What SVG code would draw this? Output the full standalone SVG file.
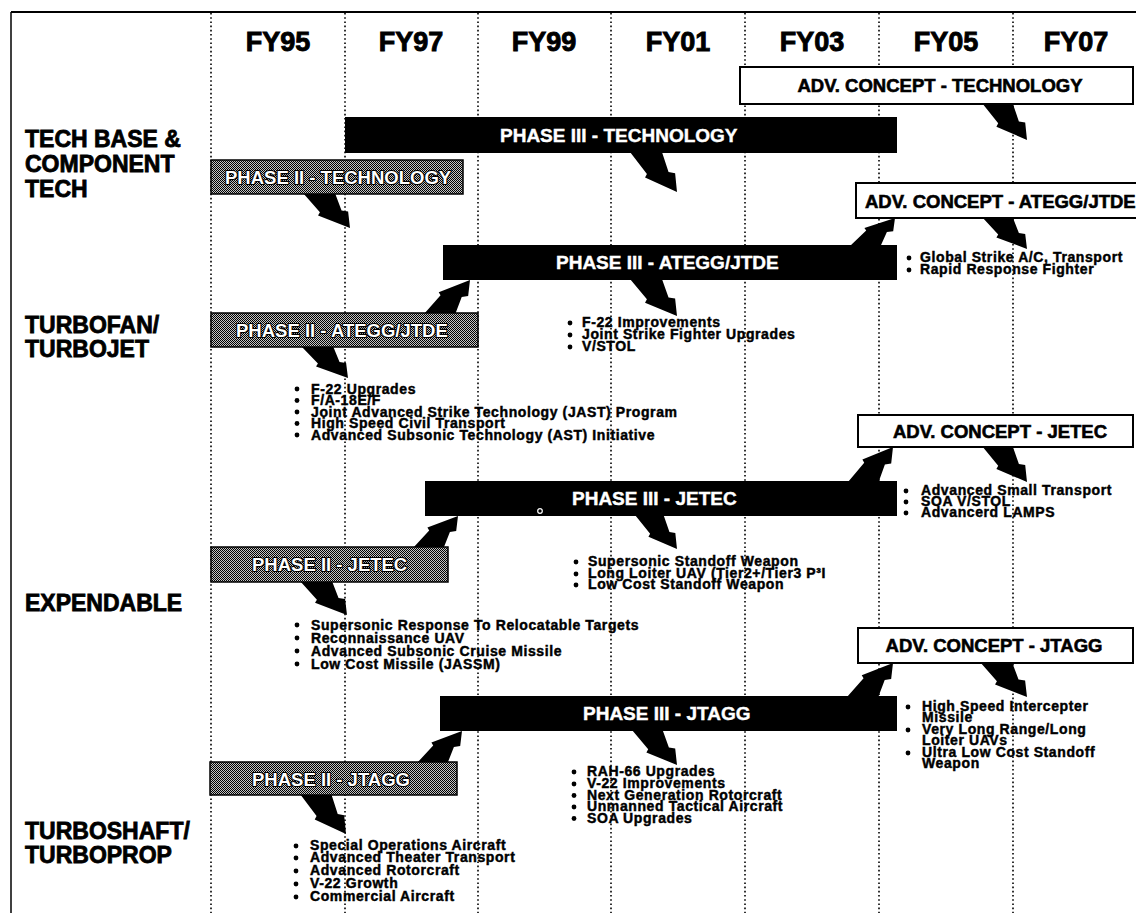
<svg xmlns="http://www.w3.org/2000/svg" width="1136" height="913" viewBox="0 0 1136 913">
<defs>
<style>
.fy{font-family:"Liberation Sans",Arial,sans-serif;font-weight:bold;font-size:27px;fill:#000;stroke:#000;stroke-width:0.9;text-anchor:middle}
.row{font-family:"Liberation Sans",Arial,sans-serif;font-weight:bold;font-size:23px;fill:#000;stroke:#000;stroke-width:0.8}
.bar{fill:#000}
.bt{font-family:"Liberation Sans",Arial,sans-serif;font-weight:bold;font-size:19px;fill:#fff;stroke:#fff;stroke-width:0.4}
.p2{fill:url(#ht);stroke:#000;stroke-width:1.5}
.p2t{font-family:"Liberation Sans",Arial,sans-serif;font-weight:bold;font-size:18.5px;fill:#fff;stroke:#000;stroke-width:2.2;paint-order:stroke;stroke-linejoin:round}
.adv{fill:#fff;stroke:#000;stroke-width:2}
.advt{font-family:"Liberation Sans",Arial,sans-serif;font-weight:bold;font-size:18.5px;fill:#000;stroke:#000;stroke-width:0.6}
.li{font-family:"Liberation Sans",Arial,sans-serif;font-weight:bold;font-size:14px;letter-spacing:0.6px;fill:#000;stroke:#000;stroke-width:0.45}
.grid{stroke:#000;stroke-width:1.6;stroke-dasharray:1.6 2.6;fill:none}
.bolt{fill:#000}
</style>
<pattern id="ht" width="2" height="2" patternUnits="userSpaceOnUse">
<rect width="2" height="2" fill="#c4c4c4"/>
<rect width="1" height="1" fill="#000"/>
<rect x="1" y="1" width="1" height="1" fill="#000"/>
</pattern>
<path id="bolt" d="M0,0 L68,0 L82,50 L96,53 L100,100 L32,64 L36,55 Z"/>
</defs>
<rect width="1136" height="913" fill="#fff"/>

<g id="frame">
<line x1="11" y1="12" x2="1136" y2="12" stroke="#000" stroke-width="2"/>
<line x1="11" y1="12" x2="11" y2="913" stroke="#000" stroke-width="1.5"/>
<g class="grid">
<line x1="211" y1="13" x2="211" y2="913"/>
<line x1="345" y1="13" x2="345" y2="913"/>
<line x1="478" y1="13" x2="478" y2="913"/>
<line x1="611" y1="13" x2="611" y2="913"/>
<line x1="745" y1="13" x2="745" y2="913"/>
<line x1="879" y1="13" x2="879" y2="913"/>
<line x1="1013" y1="13" x2="1013" y2="913"/>
</g>
</g>

<g id="years">
<text class="fy" x="278" y="51">FY95</text>
<text class="fy" x="411" y="51">FY97</text>
<text class="fy" x="544" y="51">FY99</text>
<text class="fy" x="678" y="51">FY01</text>
<text class="fy" x="812" y="51">FY03</text>
<text class="fy" x="946" y="51">FY05</text>
<text class="fy" x="1076" y="51">FY07</text>
</g>

<g id="row-labels">
<text class="row" x="25" y="147">TECH BASE &amp;</text>
<text class="row" x="25" y="172">COMPONENT</text>
<text class="row" x="25" y="197">TECH</text>
<text class="row" x="25" y="333">TURBOFAN/</text>
<text class="row" x="25" y="357">TURBOJET</text>
<text class="row" x="25" y="611">EXPENDABLE</text>
<text class="row" x="25" y="839">TURBOSHAFT/</text>
<text class="row" x="25" y="863">TURBOPROP</text>
</g>

<g id="connectors" class="bolt">
<use href="#bolt" transform="translate(982 103) scale(0.45 0.37)"/>
<use href="#bolt" transform="translate(630 152) scale(0.47 0.40)"/>
<use href="#bolt" transform="translate(303 193) scale(0.47 0.35)"/>
<use href="#bolt" transform="translate(982 217) scale(0.45 0.32)"/>
<use href="#bolt" transform="translate(630 279) scale(0.47 0.37)"/>
<use href="#bolt" transform="translate(301 346) scale(0.47 0.32)"/>
<use href="#bolt" transform="translate(982 446) scale(0.45 0.36)"/>
<use href="#bolt" transform="translate(635 515) scale(0.42 0.34)"/>
<use href="#bolt" transform="translate(300 581) scale(0.47 0.34)"/>
<use href="#bolt" transform="translate(980 662) scale(0.47 0.35)"/>
<use href="#bolt" transform="translate(632 730) scale(0.45 0.35)"/>
<use href="#bolt" transform="translate(300 794) scale(0.46 0.40)"/>
<use href="#bolt" transform="translate(424 314) scale(0.46 -0.34)"/>
<use href="#bolt" transform="translate(850 246) scale(0.45 -0.28)"/>
<use href="#bolt" transform="translate(413 548) scale(0.45 -0.32)"/>
<use href="#bolt" transform="translate(848 482) scale(0.45 -0.35)"/>
<use href="#bolt" transform="translate(417 763) scale(0.45 -0.32)"/>
<use href="#bolt" transform="translate(847 697) scale(0.46 -0.34)"/>
</g>

<g id="adv-technology">
<rect class="adv" x="740" y="67" width="393" height="37"/>
<text class="advt" x="940" y="92" text-anchor="middle">ADV. CONCEPT - TECHNOLOGY</text>
</g>
<g id="phase3-technology">
<rect class="bar" x="345" y="117" width="552" height="36"/>
<text class="bt" x="500" y="142">PHASE III - TECHNOLOGY</text>
</g>
<g id="phase2-technology">
<rect class="p2" x="211" y="160" width="252" height="34"/>
<text class="p2t" x="225" y="184">PHASE II - TECHNOLOGY</text>
</g>

<g id="adv-ategg">
<rect class="adv" x="856" y="183" width="290" height="35"/>
<text class="advt" x="865" y="208">ADV. CONCEPT - ATEGG/JTDE</text>
</g>
<g id="phase3-ategg">
<rect class="bar" x="443" y="245" width="454" height="35"/>
<text class="bt" x="556" y="269">PHASE III - ATEGG/JTDE</text>
</g>
<g id="phase2-ategg">
<rect class="p2" x="211" y="313" width="267" height="34"/>
<text class="p2t" x="236" y="337">PHASE II - ATEGG/JTDE</text>
</g>

<g id="adv-jetec">
<rect class="adv" x="858" y="415" width="275" height="32"/>
<text class="advt" x="1000" y="438" text-anchor="middle">ADV. CONCEPT - JETEC</text>
</g>
<g id="phase3-jetec">
<rect class="bar" x="425" y="481" width="472" height="35"/>
<text class="bt" x="572" y="505">PHASE III - JETEC</text>
<circle cx="540" cy="511" r="2.3" fill="none" stroke="#fff" stroke-width="1.2"/>
</g>
<g id="phase2-jetec">
<rect class="p2" x="211" y="547" width="237" height="35"/>
<text class="p2t" x="252" y="571">PHASE II - JETEC</text>
</g>

<g id="adv-jtagg">
<rect class="adv" x="858" y="628" width="275" height="35"/>
<text class="advt" x="994" y="652" text-anchor="middle">ADV. CONCEPT - JTAGG</text>
</g>
<g id="phase3-jtagg">
<rect class="bar" x="440" y="696" width="457" height="35"/>
<text class="bt" x="583" y="720">PHASE III - JTAGG</text>
</g>
<g id="phase2-jtagg">
<rect class="p2" x="210" y="762" width="247" height="33"/>
<text class="p2t" x="252" y="786">PHASE II - JTAGG</text>
</g>

<g id="list-adv-ategg">
<circle cx="909" cy="258" r="2.4"/><circle cx="909" cy="270" r="2.4"/>
<text class="li" x="920" y="262">Global Strike A/C, Transport</text>
<text class="li" x="920" y="274">Rapid Response Fighter</text>
</g>
<g id="list-phase3-ategg">
<circle cx="570" cy="323" r="2.4"/><circle cx="570" cy="335" r="2.4"/><circle cx="570" cy="347" r="2.4"/>
<text class="li" x="582" y="327">F-22 Improvements</text>
<text class="li" x="582" y="339">Joint Strike Fighter Upgrades</text>
<text class="li" x="582" y="351">V/STOL</text>
</g>
<g id="list-phase2-ategg">
<circle cx="297" cy="389" r="2.4"/><circle cx="297" cy="400.5" r="2.4"/><circle cx="297" cy="412" r="2.4"/><circle cx="297" cy="423.5" r="2.4"/><circle cx="297" cy="435" r="2.4"/>
<text class="li" x="311" y="393.5">F-22 Upgrades</text>
<text class="li" x="311" y="405">F/A-18E/F</text>
<text class="li" x="311" y="416.5">Joint Advanced Strike Technology (JAST) Program</text>
<text class="li" x="311" y="428">High Speed Civil Transport</text>
<text class="li" x="311" y="439.5">Advanced Subsonic Technology (AST) Initiative</text>
</g>
<g id="list-adv-jetec">
<circle cx="906" cy="491" r="2.4"/><circle cx="906" cy="502" r="2.4"/><circle cx="906" cy="513" r="2.4"/>
<text class="li" x="921" y="495">Advanced Small Transport</text>
<text class="li" x="921" y="506">SOA V/STOL</text>
<text class="li" x="921" y="517">Advancerd LAMPS</text>
</g>
<g id="list-phase3-jetec">
<circle cx="576" cy="562" r="2.4"/><circle cx="576" cy="574" r="2.4"/><circle cx="576" cy="585" r="2.4"/>
<text class="li" x="588" y="566">Supersonic Standoff Weapon</text>
<text class="li" x="588" y="578">Long Loiter UAV (Tier2+/Tier3 P³I</text>
<text class="li" x="588" y="589">Low Cost Standoff Weapon</text>
</g>
<g id="list-phase2-jetec">
<circle cx="297" cy="625" r="2.4"/><circle cx="297" cy="638" r="2.4"/><circle cx="297" cy="651" r="2.4"/><circle cx="297" cy="664" r="2.4"/>
<text class="li" x="311" y="629.5">Supersonic Response To Relocatable Targets</text>
<text class="li" x="311" y="642.5">Reconnaissance UAV</text>
<text class="li" x="311" y="655.5">Advanced Subsonic Cruise Missile</text>
<text class="li" x="311" y="668.5">Low Cost Missile (JASSM)</text>
</g>
<g id="list-adv-jtagg">
<circle cx="908" cy="707" r="2.4"/><circle cx="908" cy="730" r="2.4"/><circle cx="908" cy="753" r="2.4"/>
<text class="li" x="922" y="711">High Speed Intercepter</text>
<text class="li" x="922" y="722">Missile</text>
<text class="li" x="922" y="734">Very Long Range/Long</text>
<text class="li" x="922" y="745">Loiter UAVs</text>
<text class="li" x="922" y="757">Ultra Low Cost Standoff</text>
<text class="li" x="922" y="768">Weapon</text>
</g>
<g id="list-phase3-jtagg">
<circle cx="574" cy="772" r="2.4"/><circle cx="574" cy="784" r="2.4"/><circle cx="574" cy="795.5" r="2.4"/><circle cx="574" cy="807" r="2.4"/><circle cx="574" cy="818.5" r="2.4"/>
<text class="li" x="587" y="776">RAH-66 Upgrades</text>
<text class="li" x="587" y="788">V-22 Improvements</text>
<text class="li" x="587" y="799.5">Next Generation Rotorcraft</text>
<text class="li" x="587" y="811">Unmanned Tactical Aircraft</text>
<text class="li" x="587" y="822.5">SOA Upgrades</text>
</g>
<g id="list-phase2-jtagg">
<circle cx="296" cy="846" r="2.4"/><circle cx="296" cy="858" r="2.4"/><circle cx="296" cy="871" r="2.4"/><circle cx="296" cy="884" r="2.4"/><circle cx="296" cy="897" r="2.4"/>
<text class="li" x="310" y="850">Special Operations Aircraft</text>
<text class="li" x="310" y="862">Advanced Theater Transport</text>
<text class="li" x="310" y="875">Advanced Rotorcraft</text>
<text class="li" x="310" y="888">V-22 Growth</text>
<text class="li" x="310" y="901">Commercial Aircraft</text>
</g>
</svg>
